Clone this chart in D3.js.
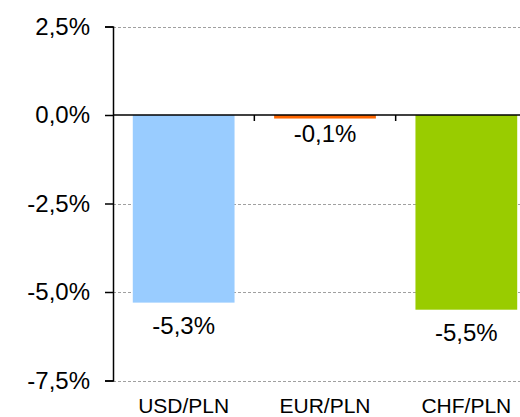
<!DOCTYPE html>
<html>
<head>
<meta charset="utf-8">
<script src="https://cdn.jsdelivr.net/npm/d3@7"></script>
<style>
  html, body { margin: 0; padding: 0; background: #fff; }
  svg { display: block; font-family: "Liberation Sans", Arial, sans-serif; }
</style>
</head>
<body>
<svg id="chart" width="520" height="417"></svg>
<script>
// Currency pairs and their change (%)
const categories = ["USD/PLN", "EUR/PLN", "CHF/PLN"];
const values = [-5.3, -0.1, -5.5];
const barColors = ["#99CCFF", "#FF6600", "#99CC00"];
const yTicks = [2.5, 0, -2.5, -5, -7.5];

const svg = d3.select("#chart");
const W = 520;

const y = d3.scaleLinear().domain([-7.5, 2.5]).range([380.5, 26.5]);
const x = d3.scaleBand().domain(categories).range([113, 537])
  .paddingInner(0.28).paddingOuter(0.14);

const fmt = v => d3.format(".1f")(v).replace(".", ",").replace("−", "-") + "%";

// horizontal dashed gridlines
svg.append("g").selectAll("line")
  .data(yTicks.filter(t => t !== 0))
  .join("line")
  .attr("x1", x.range()[0]).attr("x2", W)
  .attr("y1", d => Math.round(y(d)) + 0.5).attr("y2", d => Math.round(y(d)) + 0.5)
  .attr("stroke", "#a0a0a0").attr("stroke-width", 1)
  .attr("stroke-dasharray", "3,2");

// bars
svg.append("g").selectAll("rect")
  .data(values)
  .join("rect")
  .attr("x", (d, i) => x(categories[i]))
  .attr("width", x.bandwidth())
  .attr("y", d => y(Math.max(0, d)))
  .attr("height", d => Math.abs(y(d) - y(0)))
  .attr("fill", (d, i) => barColors[i]);

// y axis
const yAxis = d3.axisLeft(y).tickValues(yTicks).tickSize(8).tickPadding(15).tickFormat(fmt);
const gy = svg.append("g").attr("transform", `translate(${x.range()[0]},0)`).call(yAxis);
gy.select(".domain").attr("stroke", "#000").attr("stroke-width", 1.5);
gy.selectAll(".tick line").attr("stroke", "#000").attr("stroke-width", 1.5);
gy.selectAll(".tick text").attr("font-size", 24).attr("fill", "#000")
  .attr("font-family", "Liberation Sans, Arial, sans-serif");

// zero line with category separators
const zeroY = y(0);
svg.append("line")
  .attr("x1", x.range()[0]).attr("x2", W)
  .attr("y1", zeroY).attr("y2", zeroY)
  .attr("stroke", "#000").attr("stroke-width", 1.5);
const step = x.step();
svg.append("g").selectAll("line")
  .data(d3.range(1, categories.length))
  .join("line")
  .attr("x1", i => x.range()[0] + i * step).attr("x2", i => x.range()[0] + i * step)
  .attr("y1", zeroY).attr("y2", zeroY + 6)
  .attr("stroke", "#000").attr("stroke-width", 1.5);

// value labels below bars
svg.append("g").selectAll("text")
  .data(values)
  .join("text")
  .attr("x", (d, i) => x(categories[i]) + x.bandwidth() / 2)
  .attr("y", d => y(d) + (d > -1 ? 23 : 31))
  .attr("text-anchor", "middle")
  .attr("font-size", 24).attr("fill", "#000")
  .text(fmt);

// category labels at the bottom
svg.append("g").selectAll("text")
  .data(categories)
  .join("text")
  .attr("x", d => x(d) + x.bandwidth() / 2)
  .attr("y", 413)
  .attr("text-anchor", "middle")
  .attr("font-size", 21).attr("fill", "#000")
  .text(d => d);
</script>
</body>
</html>
